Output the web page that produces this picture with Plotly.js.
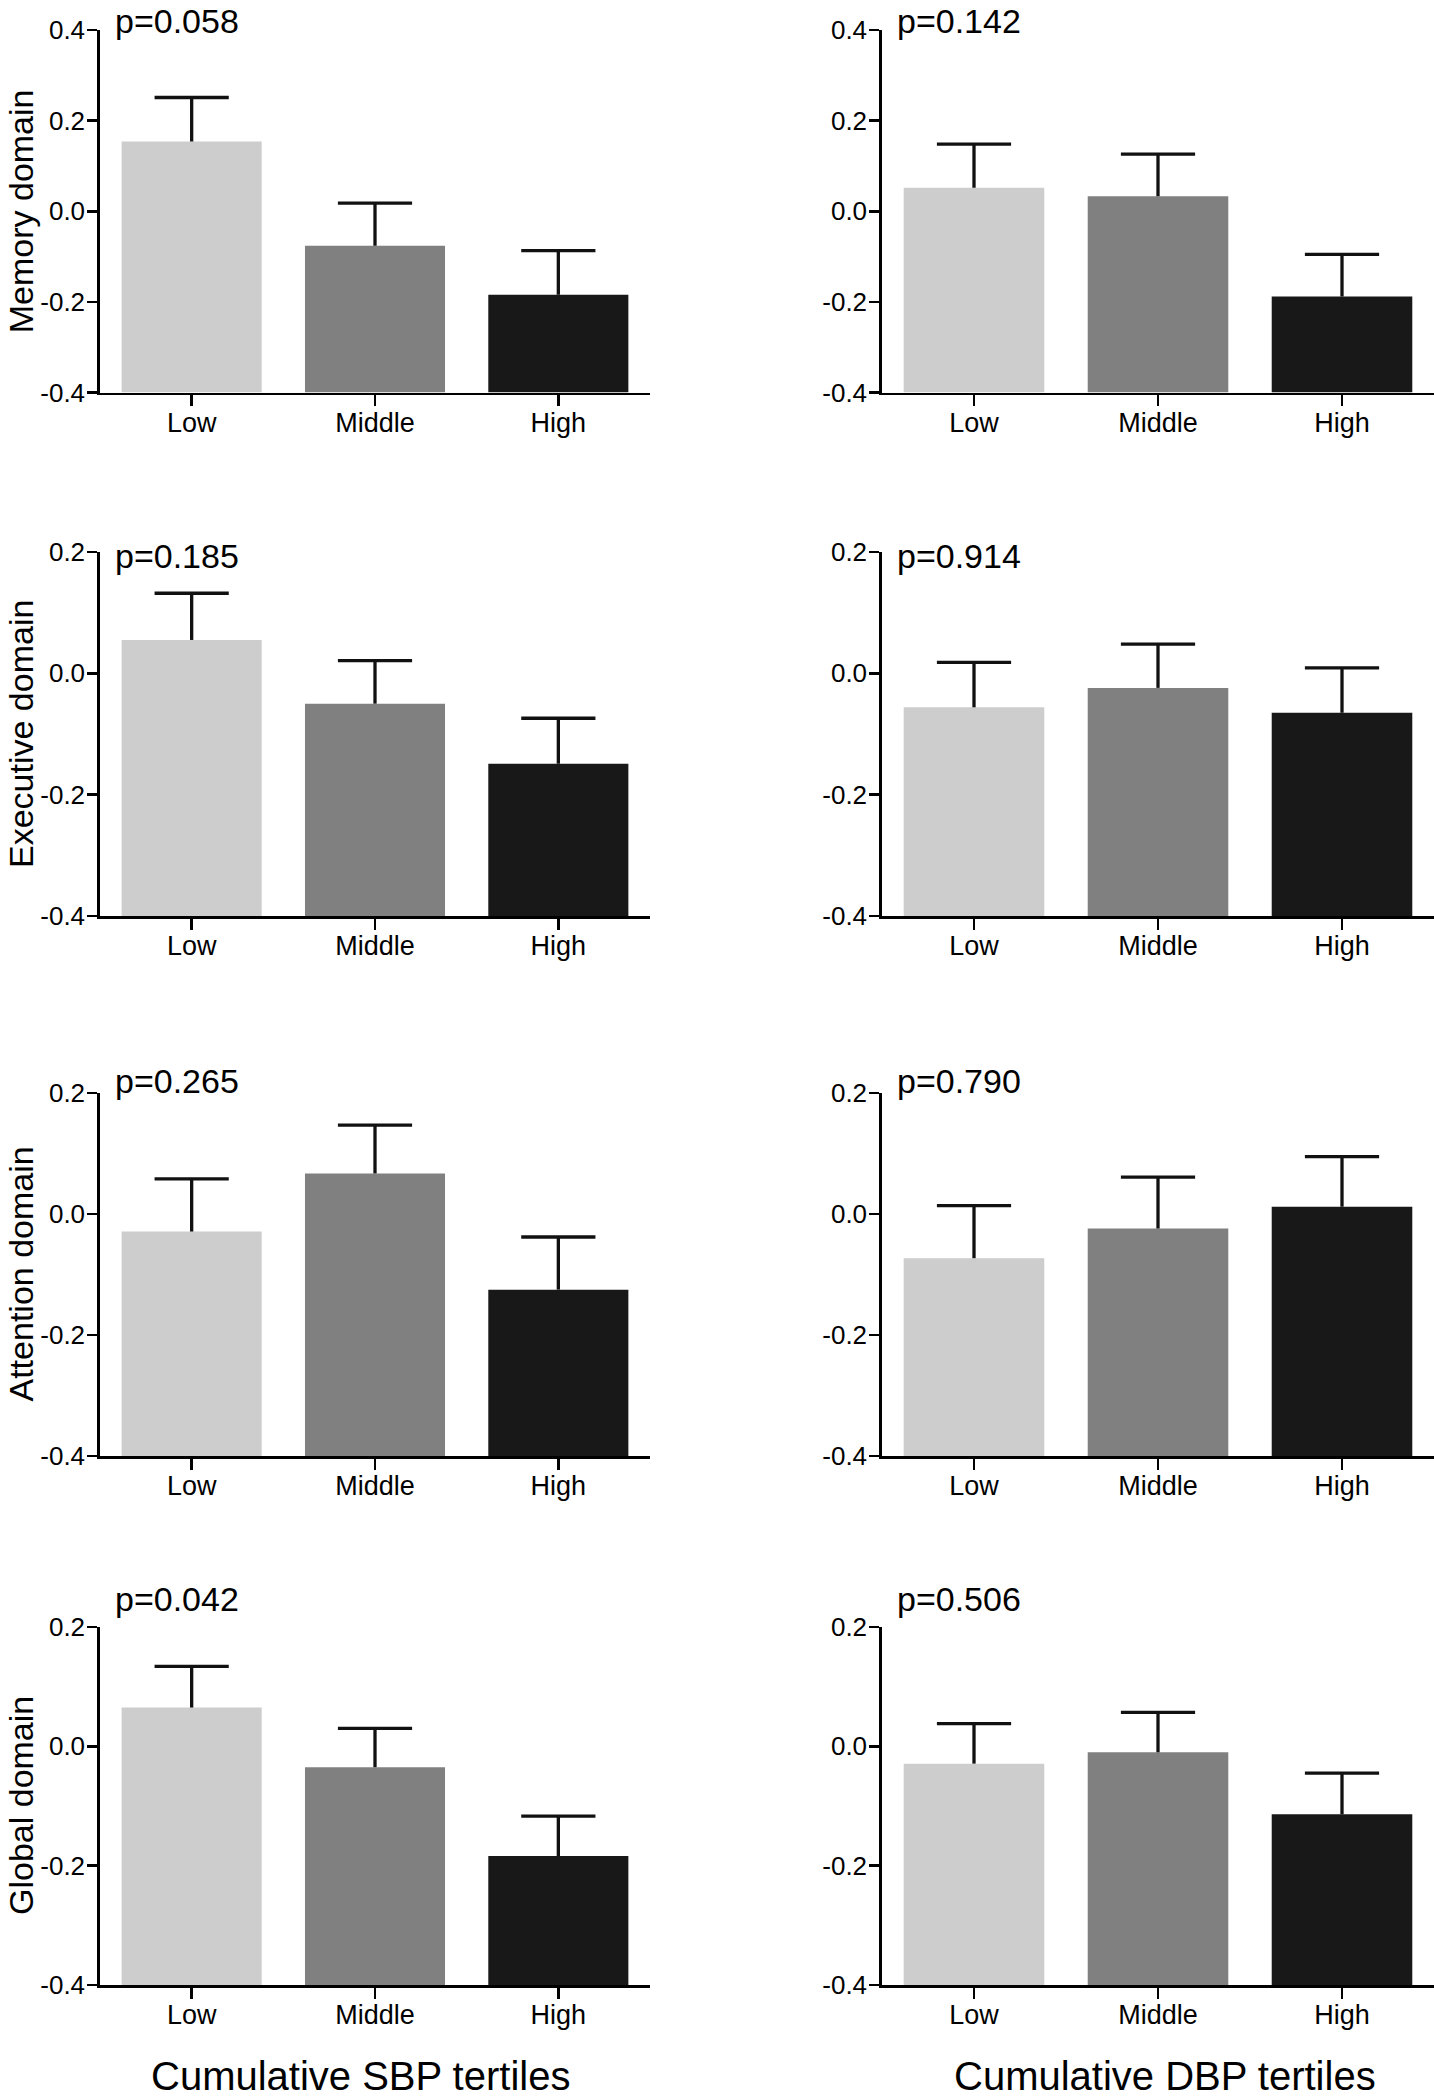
<!DOCTYPE html>
<html><head><meta charset="utf-8">
<script src="https://cdn.plot.ly/plotly-3.0.1.min.js"></script>
<style>html,body{margin:0;padding:0;background:#fff}#chart{width:1434px;height:2100px}</style>
</head><body><div id="chart"></div>
<script>
// ---- data ----
const categories = ['Low', 'Middle', 'High'];
const domainTitles = ['Memory domain', 'Executive domain', 'Attention domain', 'Global domain'];
const groupTitles = ['Cumulative SBP tertiles', 'Cumulative DBP tertiles'];

const sbpMemory = [0.154, -0.076, -0.184];
const sbpMemorySE = [0.097, 0.094, 0.097];
const dbpMemory = [0.052, 0.033, -0.188];
const dbpMemorySE = [0.096, 0.093, 0.093];

const sbpExecutive = [0.055, -0.050, -0.149];
const sbpExecutiveSE = [0.077, 0.071, 0.075];
const dbpExecutive = [-0.056, -0.024, -0.065];
const dbpExecutiveSE = [0.074, 0.072, 0.074];

const sbpAttention = [-0.029, 0.067, -0.125];
const sbpAttentionSE = [0.087, 0.080, 0.087];
const dbpAttention = [-0.073, -0.024, 0.012];
const dbpAttentionSE = [0.087, 0.085, 0.083];

const sbpGlobal = [0.065, -0.035, -0.184];
const sbpGlobalSE = [0.069, 0.065, 0.067];
const dbpGlobal = [-0.029, -0.010, -0.114];
const dbpGlobalSE = [0.067, 0.067, 0.069];

const sbpPValues = ['p=0.058', 'p=0.185', 'p=0.265', 'p=0.042'];
const dbpPValues = ['p=0.142', 'p=0.914', 'p=0.790', 'p=0.506'];

const yTickValsTop = [-0.4, -0.2, 0, 0.2, 0.4];
const yTickTextTop = ['-0.4', '-0.2', '0.0', '0.2', '0.4'];
const yTickVals = [-0.4, -0.2, 0, 0.2];
const yTickText = ['-0.4', '-0.2', '0.0', '0.2'];
const yRangeTop = [-0.4, 0.4];
const yRange = [-0.4, 0.2];
const barBase = -0.4;

// ---- styling / geometry ----
const barColors = ['#cdcdcd', '#808080', '#181818'];
const FONT = 'Arial, "Liberation Sans", Helvetica, sans-serif';
const H = 2100, W = 1434;
const colDomains = [[100 / W, 650 / W], [882 / W, 1.0]];
const rowDomains = [[1 - 392.5 / H, 1 - 30 / H], [1 - 916 / H, 1 - 552 / H], [1 - 1456 / H, 1 - 1093 / H], [1 - 1985 / H, 1 - 1627 / H]];
const pLabelY = [0, 556, 1081, 1599];
const pLabelAnchor = ['top', 'middle', 'middle', 'middle'];

const panels = [
  {m: sbpMemory, se: sbpMemorySE, p: sbpPValues[0], row: 0, col: 0},
  {m: dbpMemory, se: dbpMemorySE, p: dbpPValues[0], row: 0, col: 1},
  {m: sbpExecutive, se: sbpExecutiveSE, p: sbpPValues[1], row: 1, col: 0},
  {m: dbpExecutive, se: dbpExecutiveSE, p: dbpPValues[1], row: 1, col: 1},
  {m: sbpAttention, se: sbpAttentionSE, p: sbpPValues[2], row: 2, col: 0},
  {m: dbpAttention, se: dbpAttentionSE, p: dbpPValues[2], row: 2, col: 1},
  {m: sbpGlobal, se: sbpGlobalSE, p: sbpPValues[3], row: 3, col: 0},
  {m: dbpGlobal, se: dbpGlobalSE, p: dbpPValues[3], row: 3, col: 1}
];

const xIdx = categories.map((c, i) => i);
const traces = [];
const layout = {
  width: W, height: H,
  margin: {l: 0, r: 0, t: 0, b: 0},
  paper_bgcolor: '#ffffff', plot_bgcolor: 'rgba(0,0,0,0)',
  showlegend: false,
  font: {family: FONT, color: '#000'},
  annotations: []
};

panels.forEach((pn, k) => {
  const n = k + 1;
  const xa = 'x' + (n === 1 ? '' : n), ya = 'y' + (n === 1 ? '' : n);
  const xKey = 'xaxis' + (n === 1 ? '' : n), yKey = 'yaxis' + (n === 1 ? '' : n);
  traces.push({
    type: 'bar', x: xIdx, y: pn.m.map(v => v - barBase), base: barBase,
    width: 0.764, marker: {color: barColors, line: {width: 0}},
    xaxis: xa, yaxis: ya, hoverinfo: 'skip'
  });
  traces.push({
    type: 'scatter', mode: 'markers', x: xIdx, y: pn.m,
    marker: {size: 1, color: 'rgba(0,0,0,0)'},
    error_y: {type: 'data', symmetric: false, array: pn.se, arrayminus: pn.se.map(() => 0),
              width: 0, thickness: 3.3, color: '#111'},
    xaxis: xa, yaxis: ya, hoverinfo: 'skip'
  });
  traces.push({
    type: 'scatter', mode: 'markers', x: xIdx, y: pn.m.map((v, i) => v + pn.se[i]),
    marker: {symbol: 'line-ew', size: 53, color: '#111', line: {width: 3.3, color: '#111'}},
    xaxis: xa, yaxis: ya, hoverinfo: 'skip', cliponaxis: false
  });
  const top = pn.row === 0;
  layout[xKey] = {
    domain: colDomains[pn.col], anchor: ya, range: [-0.5, 2.5],
    tickmode: 'array', tickvals: xIdx, ticktext: categories,
    showline: true, linewidth: 2.7, linecolor: '#000',
    ticks: 'outside', ticklen: 11, tickwidth: 2.5, tickcolor: '#000',
    ticklabelstandoff: -7,
    showgrid: false, zeroline: false, fixedrange: true,
    tickfont: {size: 27, family: FONT, color: '#000'}
  };
  layout[yKey] = {
    domain: rowDomains[pn.row], anchor: xa, range: top ? yRangeTop : yRange,
    tickmode: 'array', tickvals: top ? yTickValsTop : yTickVals, ticktext: top ? yTickTextTop : yTickText,
    showline: true, linewidth: 2.7, linecolor: '#000',
    ticks: 'outside', ticklen: 10, tickwidth: 2.5, tickcolor: '#000',
    ticklabelstandoff: -3,
    showgrid: false, zeroline: false, fixedrange: true,
    tickfont: {size: 26, family: FONT, color: '#000'}
  };
  layout.annotations.push({
    xref: 'paper', yref: 'paper', x: pn.col === 0 ? 113 / W : 895 / W, y: 1 - pLabelY[pn.row] / H,
    xanchor: 'left', yanchor: pLabelAnchor[pn.row], showarrow: false, text: pn.p,
    font: {size: 34, family: FONT, color: '#000'}
  });
  if (pn.col === 0) {
    const d = rowDomains[pn.row];
    layout.annotations.push({
      xref: 'paper', yref: 'paper', x: 0, y: (d[0] + d[1]) / 2,
      xanchor: 'left', yanchor: 'middle', showarrow: false, textangle: -90,
      text: domainTitles[pn.row], font: {size: 34, family: FONT, color: '#000'}
    });
  }
});

groupTitles.forEach((t, i) => {
  layout.annotations.push({
    xref: 'paper', yref: 'paper', x: i === 0 ? 360 / W : 1165 / W, y: 0,
    xanchor: 'center', yanchor: 'bottom', showarrow: false, text: t,
    font: {size: 40, family: FONT, color: '#000'}
  });
});

Plotly.newPlot('chart', traces, layout, {displayModeBar: false, staticPlot: true});
</script>
</body></html>
